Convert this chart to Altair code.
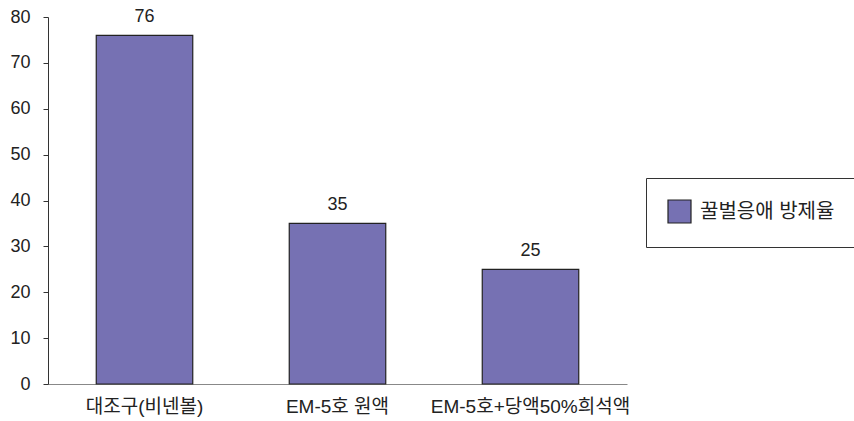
import altair as alt
import pandas as pd

categories = ["대조구(비넨볼)", "EM-5호 원액", "EM-5호+당액50%희석액"]
values = [76, 35, 25]
series_name = "꿀벌응애 방제율"

df = pd.DataFrame({"cat": categories, "val": values, "series": [series_name] * 3})

FONT = "Liberation Sans, Noto Sans CJK KR"
BAR = "#7671b3"
TXT = "#222222"

base = alt.Chart(df).encode(
    x=alt.X("cat:N", sort=categories,
            scale=alt.Scale(paddingInner=0.5, paddingOuter=0.25),
            axis=alt.Axis(title=None, labelAngle=0, ticks=False, domainColor="#888888",
                          labelFontSize=19, labelColor=TXT, labelPadding=13,
                          labelFont=FONT, labelLimit=300)),
    y=alt.Y("val:Q", scale=alt.Scale(domain=[0, 80]),
            axis=alt.Axis(title=None, values=list(range(0, 81, 10)), grid=False,
                          tickSize=5, tickColor="#333333", domainColor="#333333",
                          labelFontSize=18, labelColor=TXT, labelPadding=13,
                          labelFont=FONT)),
)

bars = base.mark_bar(stroke="#222222", strokeWidth=1.2).encode(
    color=alt.Color("series:N", scale=alt.Scale(range=[BAR]),
                    legend=alt.Legend(title=None, orient="none", legendX=598, legendY=161,
                                      symbolType="square", symbolSize=529,
                                      symbolStrokeColor="#222222", symbolStrokeWidth=1.2,
                                      labelFontSize=20, labelFont=FONT, labelColor=TXT,
                                      labelOffset=8, padding=21, labelLimit=300,
                                      strokeColor="#333333", fillColor="white"))
)

labels = base.mark_text(dy=-18, fontSize=18, font=FONT, color=TXT).encode(
    text="val:Q"
)

chart = (bars + labels).properties(
    width=579, height=367,
    padding={"left": 48, "top": 17, "right": 227, "bottom": 37},
    autosize=alt.AutoSizeParams(type="none"),
    background="white",
).configure_view(stroke="transparent", strokeWidth=0)

chart.save("out.html", embed_options={"renderer": "svg", "actions": False})
